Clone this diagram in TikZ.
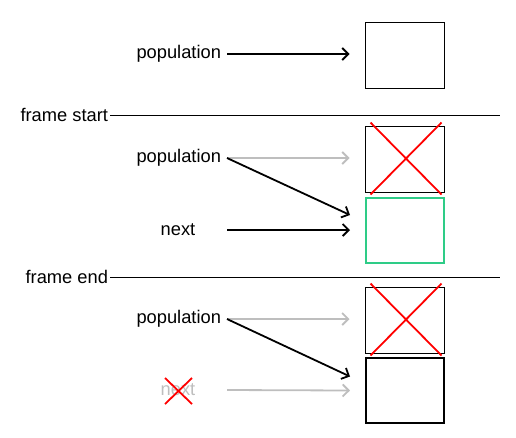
\documentclass[tikz,border=0pt]{standalone}
\usepackage{fontspec}
\setmainfont{Liberation Sans}
\usetikzlibrary{arrows.meta,calc}
\definecolor{boxgreen}{RGB}{46,204,135}
\definecolor{lightgrey}{RGB}{190,190,190}
\begin{document}
\begin{tikzpicture}[x=1pt,y=-1pt,
  lbl/.style={font=\fontsize{18.3}{21}\selectfont, inner sep=0pt},
  poplbl/.style={lbl, anchor=east, outer sep=6pt},
  framelbl/.style={lbl, anchor=east, outer sep=2pt},
  memory/.style={draw=black, line width=1pt, minimum width=79pt, minimum height=66pt, inner sep=0pt},
  ptr/.style={line width=1.8pt, -{Straight Barb[length=6pt,width=12pt,line width=1.8pt]}},
  oldptr/.style={ptr, draw=lightgrey},
  cross/.style={draw=red, line width=1.8pt},
  rule/.style={draw=black, line width=1pt}]
\useasboundingbox (0,0) rectangle (516,437);

% top section
\node[memory] (b1) at (404.5,55) {};
\node[poplbl] (pop1) at (227,54) {population};
\draw[ptr] (pop1.east) -- ([xshift=-15pt]b1.west |- pop1.east);

% frame start
\node[framelbl] (fs) at (110,115) {frame start};
\coordinate (fsr) at (500,115);
\draw[rule] (fs.east) -- (fsr);

\node[memory] (b2) at (404.5,159) {};
\node[memory, draw=boxgreen, line width=2pt, minimum width=78pt, minimum height=65pt] (b3) at (405,230) {};
\node[poplbl] (pop2) at (227,158) {population};
\node[lbl] (nx1) at (178,230) {next};
\draw[oldptr] (pop2.east) -- ([xshift=-15pt]b2.west |- pop2.east);
\draw[ptr] (pop2.east) -- ([xshift=-15pt,yshift=15pt]b3.west);
\draw[ptr] (pop2.east |- nx1) -- ([xshift=-15pt]b3.west);
\draw[cross] ([xshift=6pt,yshift=3pt]b2.north west) -- ([xshift=-3pt,yshift=-2pt]b2.south east);
\draw[cross] ([xshift=-3pt,yshift=3pt]b2.north east) -- ([xshift=6pt,yshift=-2pt]b2.south west);

% frame end
\node[framelbl] (fe) at (110,277) {frame end};
\coordinate (fer) at (500,277);
\draw[rule] (fe.east) -- (fer);

\node[memory] (b4) at (404.5,320) {};
\node[memory, line width=2pt, minimum width=78pt, minimum height=65pt] (b5) at (405,390.5) {};
\node[poplbl] (pop3) at (227,319) {population};
\node[lbl, text=lightgrey] (nx2) at (178,390) {next};
\draw[oldptr] (pop3.east) -- ([xshift=-15pt]b4.west |- pop3.east);
\draw[ptr] (pop3.east) -- ([xshift=-15pt,yshift=14pt]b5.west);
\draw[oldptr] (pop3.east |- nx2) -- ([xshift=-15pt]b5.west);
\draw[cross] ([xshift=6pt,yshift=3pt]b4.north west) -- ([xshift=-3pt,yshift=-2pt]b4.south east);
\draw[cross] ([xshift=-3pt,yshift=3pt]b4.north east) -- ([xshift=6pt,yshift=-2pt]b4.south west);
\draw[cross] ([xshift=-13pt,yshift=12pt]nx2.center) -- ([xshift=14pt,yshift=-14pt]nx2.center);
\draw[cross] ([xshift=14pt,yshift=12pt]nx2.center) -- ([xshift=-13pt,yshift=-14pt]nx2.center);
\end{tikzpicture}
\end{document}
